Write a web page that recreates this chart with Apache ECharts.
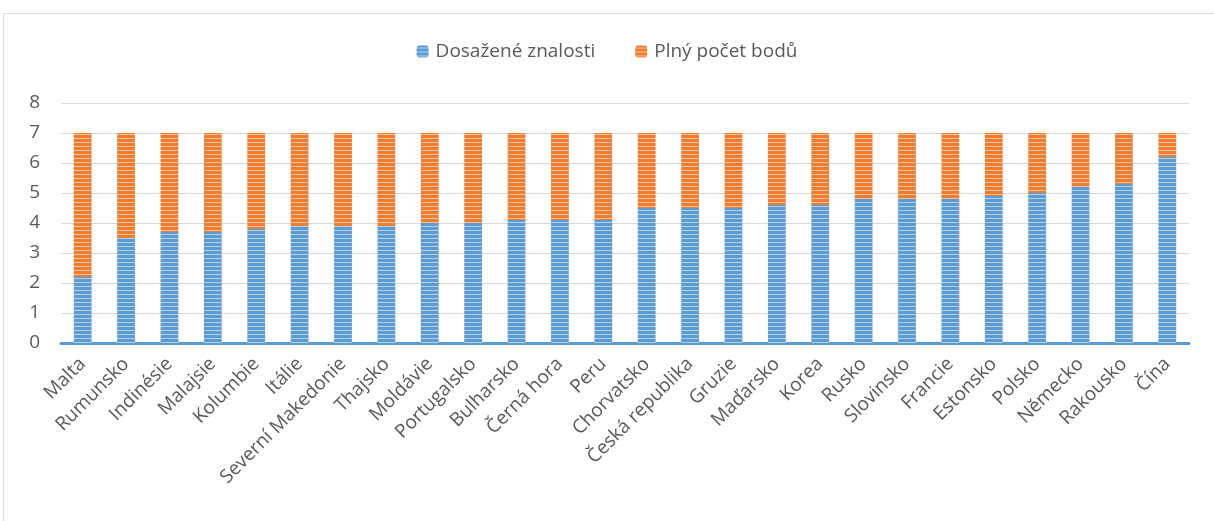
<!DOCTYPE html>
<html>
<head>
<meta charset="utf-8">
<script src="https://cdn.jsdelivr.net/npm/echarts@6/dist/echarts.min.js"></script>
<style>
  html, body { margin: 0; padding: 0; background: #fff; }
</style>
</head>
<body>
<div id="chart" style="width: 1214px; height: 521px"></div>
<script>
const countries = [
  "Malta", "Rumunsko", "Indinésie", "Malajsie", "Kolumbie", "Itálie",
  "Severní Makedonie", "Thajsko", "Moldávie", "Portugalsko", "Bulharsko",
  "Černá hora", "Peru", "Chorvatsko", "Česká republika", "Gruzie",
  "Maďarsko", "Korea", "Rusko", "Slovinsko", "Francie", "Estonsko",
  "Polsko", "Německo", "Rakousko", "Čína"
];
const achieved = [
  2.2, 3.5, 3.7, 3.7, 3.8, 3.9, 3.9, 3.9, 4.0, 4.0, 4.1, 4.1, 4.1,
  4.5, 4.5, 4.5, 4.6, 4.6, 4.8, 4.8, 4.8, 4.9, 5.0, 5.2, 5.3, 6.2
];
const remaining = [
  4.8, 3.5, 3.3, 3.3, 3.2, 3.1, 3.1, 3.1, 3.0, 3.0, 2.9, 2.9, 2.9,
  2.5, 2.5, 2.5, 2.4, 2.4, 2.2, 2.2, 2.2, 2.1, 2.0, 1.8, 1.7, 0.8
];
const yTicks = [0, 1, 2, 3, 4, 5, 6, 7, 8];

// horizontal stripe fill like the excel pattern
function stripes(dark, light) {
  const c = document.createElement("canvas");
  c.width = 4;
  c.height = 4;
  const ctx = c.getContext("2d");
  ctx.fillStyle = dark;
  ctx.fillRect(0, 0, 4, 4);
  ctx.fillStyle = light;
  ctx.fillRect(0, 2, 4, 1);
  return c;
}

const chart = echarts.init(document.getElementById("chart"));
const font = "'Open Sans', 'Noto Sans', sans-serif";

const option = {
  animation: false,
  textStyle: { fontFamily: font },
  graphic: [
    {
      type: "rect",
      shape: { x: 3.5, y: 13.5, width: 1230, height: 530 },
      style: { fill: "none", stroke: "#d9d9d9", lineWidth: 1 },
    },
  ],
  legend: {
    top: 37,
    left: "center",
    itemWidth: 12,
    itemHeight: 12,
    itemGap: 40,
    textStyle: { color: "#595959", fontSize: 19, fontFamily: font, padding: [0, 0, 0, 2] },
    data: ["Dosažené znalosti", "Plný počet bodů"],
  },
  grid: {
    left: 61,
    right: 25,
    top: 103,
    bottom: 178,
    containLabel: false,
  },
  xAxis: {
    type: "category",
    data: countries,
    axisLine: { lineStyle: { color: "#5b9bd5", width: 3 } },
    axisTick: { show: false },
    axisLabel: {
      rotate: 45,
      interval: 0,
      margin: 18,
      color: "#595959",
      fontSize: 19,
      fontFamily: font,
    },
  },
  yAxis: {
    type: "value",
    min: yTicks[0],
    max: yTicks[yTicks.length - 1],
    interval: 1,
    axisLine: { show: false },
    axisTick: { show: false },
    splitLine: { lineStyle: { color: "#d9d9d9", width: 1 } },
    axisLabel: {
      margin: 21,
      color: "#595959",
      fontSize: 19,
      fontFamily: font,
    },
  },
  series: [
    {
      name: "Dosažené znalosti",
      type: "bar",
      stack: "body",
      barWidth: "41%",
      itemStyle: {
        color: { image: stripes("#5b9bd5", "#b7d2ee"), repeat: "repeat" },
      },
      data: achieved,
    },
    {
      name: "Plný počet bodů",
      type: "bar",
      stack: "body",
      barWidth: "41%",
      itemStyle: {
        color: { image: stripes("#ed7d31", "#f7bf98"), repeat: "repeat" },
      },
      data: remaining,
    },
  ],
};
chart.setOption(option);
</script>
</body>
</html>
